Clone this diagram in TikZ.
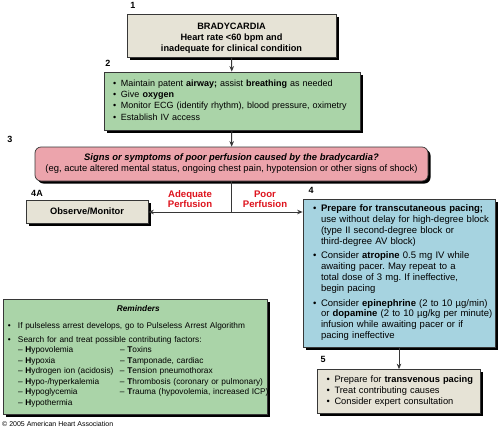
\documentclass[tikz,border=0pt]{standalone}
\usepackage{fontspec}
\setmainfont{Liberation Sans}
\usetikzlibrary{arrows.meta,shadows}
\frenchspacing

\definecolor{beige}{RGB}{230,227,214}
\definecolor{sage}{RGB}{170,212,168}
\definecolor{rose}{RGB}{236,164,172}
\definecolor{sky}{RGB}{166,211,224}
\definecolor{edge}{RGB}{55,55,55}
\definecolor{ahared}{RGB}{222,18,28}

\newcommand{\bul}{\makebox[8pt][l]{\textbullet}}

\tikzset{
  box/.style={draw=edge, line width=0.7pt, inner ysep=0pt,
    drop shadow={shadow xshift=2.5pt, shadow yshift=-2.5pt, fill=black, opacity=1}},
  num/.style={font=\fontsize{9}{10}\selectfont\bfseries},
  perf/.style={font=\fontsize{9.6}{10}\selectfont\bfseries, text=ahared, align=center, inner sep=0pt},
  link/.style={draw=edge, line width=1pt},
  tip/.style={link, -{Stealth[length=5.5pt,width=4.5pt]}},
}

\begin{document}
\begin{tikzpicture}[x=1pt,y=-1pt, font=\fontsize{9.3}{11.3}\selectfont]
  \fill[white] (0,0) rectangle (500,429);
  \useasboundingbox (0,0) rectangle (500,429);

  % boxes
  \node[box, fill=beige, minimum width=209pt, minimum height=43pt, align=center,
        font=\fontsize{9.2}{11}\selectfont\bfseries] (brady) at (231.5,35.5)
    {\rule{0pt}{11pt}BRADYCARDIA\\Heart rate <60 bpm and\\inadequate for clinical condition};
  \node[box, fill=sage, minimum width=256pt, minimum height=58pt, inner xsep=9pt,
        text width=238pt, align=left, font=\fontsize{9}{11.3}\selectfont] (support) at (232,101)
    {\begin{tabular}{@{}l@{}l@{}}
      \bul & Maintain patent \textbf{airway;} assist \textbf{breathing} as needed\\
      \bul & Give \textbf{oxygen}\\
      \bul & Monitor ECG (identify rhythm), blood pressure, oximetry\\
      \bul & Establish IV access
    \end{tabular}};
  \node[box, fill=rose, rounded corners=6pt, minimum width=393pt, minimum height=34pt,
        align=center, font=\fontsize{9.4}{11}\selectfont] (signs) at (231.5,164)
    {\textbf{\textit{Signs or symptoms of poor perfusion caused by the bradycardia?}}\\
     (eg, acute altered mental status, ongoing chest pain, hypotension or other signs of shock)};
  \node[box, fill=beige, minimum width=122pt, minimum height=23pt,
        font=\fontsize{9.3}{11}\selectfont\bfseries] (observe) at (87,211.5) {Observe/Monitor};
  \node[box, fill=sky, minimum width=192pt, minimum height=148pt, inner xsep=10pt,
        text width=172pt, align=left, font=\fontsize{9.5}{10.8}\selectfont] (pacing) at (399,273)
    {\begin{tabular}{@{}l@{}l@{}}
      \bul & \textbf{Prepare for transcutaneous pacing;}\\
           & use without delay for high-degree block\\
           & (type II second-degree block or\\
           & third-degree AV block)\\[4pt]
      \bul & Consider \textbf{atropine} 0.5 mg IV while\\
           & awaiting pacer. May repeat to a\\
           & total dose of 3 mg. If ineffective,\\
           & begin pacing\\[4pt]
      \bul & Consider \textbf{epinephrine} (2 to 10 µg/min)\\
           & or \textbf{dopamine} (2 to 10 µg/kg per minute)\\
           & infusion while awaiting pacer or if\\
           & pacing ineffective
    \end{tabular}};
  \node[box, fill=beige, minimum width=163pt, minimum height=44pt, inner xsep=9pt,
        text width=145pt, align=left, font=\fontsize{9.3}{11}\selectfont] (transv) at (399,391.5)
    {\begin{tabular}{@{}l@{}l@{}}
      \bul & Prepare for \textbf{transvenous pacing}\\
      \bul & Treat contributing causes\\
      \bul & Consider expert consultation
    \end{tabular}};
  \node[box, fill=sage, minimum width=264pt, minimum height=115pt, inner xsep=5pt,
        text width=254pt, align=left, font=\fontsize{8.3}{10.5}\selectfont,
        drop shadow={shadow xshift=3pt, shadow yshift=-3pt, fill=black, opacity=1}] (remind) at (135,356.5)
    {\begin{tabular}{@{}p{10pt}@{}p{102pt}@{}l@{}}
      \multicolumn{3}{@{}c@{}}{\textbf{\textit{Reminders}}}\\[6pt]
      \textbullet & \multicolumn{2}{@{}l@{}}{If pulseless arrest develops, go to Pulseless Arrest Algorithm}\\[3.5pt]
      \textbullet & \multicolumn{2}{@{}l@{}}{Search for and treat possible contributing factors:}\\
      & -- \textbf{H}ypovolemia & -- \textbf{T}oxins\\
      & -- \textbf{H}ypoxia & -- \textbf{T}amponade, cardiac\\
      & -- \textbf{H}ydrogen ion (acidosis) & -- \textbf{T}ension pneumothorax\\
      & -- \textbf{H}ypo-/hyperkalemia & -- \textbf{T}hrombosis (coronary or pulmonary)\\
      & -- \textbf{H}ypoglycemia & -- \textbf{T}rauma (hypovolemia, increased ICP)\\
      & -- \textbf{H}ypothermia &
    \end{tabular}};

  % step numbers
  \node[num] (n1) at (133,5) {1};
  \node[num] (n2) at (108,63) {2};
  \node[num] (n3) at (10,139) {3};
  \node[num] (n4a) at (37,193) {4A};
  \node[num] (n4) at (311,190) {4};
  \node[num] (n5) at (323,359) {5};

  % connectors
  \coordinate (split) at (brady.south |- 0,212);
  \draw[tip] (brady) -- (support);
  \draw[tip] (support) -- (signs);
  \draw[link] (signs.south) -- (split);
  \draw[tip] (split) -- (split -| observe.east);
  \draw[tip] (split) -- (split -| pacing.west);
  \draw[tip] (pacing) -- (transv);

  \node[perf] (adequate) at (190,199) {Adequate\\Perfusion};
  \node[perf] (poor) at (265,199) {Poor\\Perfusion};

  \node[anchor=west, inner sep=0pt, font=\fontsize{7}{8}\selectfont] (copy) at (2,424)
    {© 2005 American Heart Association};
\end{tikzpicture}
\end{document}
